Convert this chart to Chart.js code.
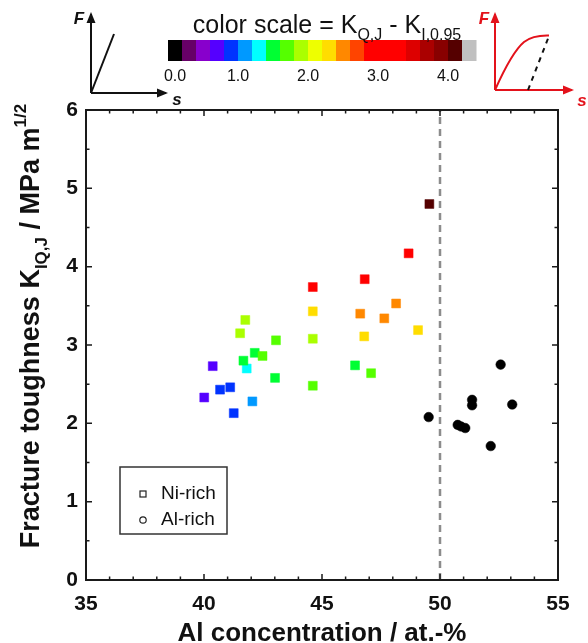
<!DOCTYPE html>
<html>
<head>
<meta charset="utf-8">
<script src="https://cdn.jsdelivr.net/npm/chart.js@4/dist/chart.umd.min.js"></script>
<style>
  html, body { margin: 0; padding: 0; background: #fff; }
  #wrap { width: 588px; height: 643px; position: relative; }
</style>
</head>
<body>
<div id="wrap"><canvas id="c" width="588" height="643"></canvas></div>
<script>
// ---------- DATA ----------
// Ni-rich alloys (squares): Al concentration (at.-%), K_IQ,J (MPa m^1/2), colour-scale value K_Q,J - K_I,0.95
const niAl = [40.37, 40.68, 41.11, 40.01, 41.26, 42.05, 41.81, 41.67, 42.15, 42.48, 43.05, 43.01, 41.53, 41.75,
              44.61, 44.61, 44.61, 44.61, 49.55, 48.67, 46.81, 48.14, 46.62, 47.64, 46.79, 49.07, 46.40, 47.08];
const niK  = [2.73, 2.43, 2.46, 2.33, 2.13, 2.28, 2.70, 2.80, 2.90, 2.86, 3.06, 2.58, 3.15, 3.32,
              3.74, 3.43, 3.08, 2.48, 4.80, 4.17, 3.84, 3.53, 3.40, 3.34, 3.11, 3.19, 2.74, 2.64];
const niDiff = [0.6, 0.8, 0.8, 0.6, 0.8, 1.0, 1.2, 1.4, 1.4, 1.6, 1.6, 1.4, 1.8, 1.8,
                3.0, 2.2, 1.8, 1.6, 4.0, 3.0, 3.0, 2.4, 2.4, 2.4, 2.2, 2.2, 1.4, 1.6];
// Al-rich alloys (circles)
const alAl = [49.52, 52.57, 51.36, 51.36, 53.06, 50.75, 50.89, 51.07, 52.15];
const alK  = [2.08, 2.75, 2.30, 2.23, 2.24, 1.98, 1.96, 1.94, 1.71];
// stoichiometric boundary
const boundaryAl = [50, 50];
const boundaryK  = [0, 6];
// axis ranges / ticks
const xRange = [35, 55], xMajor = 5, xMinor = 1;
const yRange = [0, 6], yMajor = 1, yMinor = 0.5;
// colour scale
const scaleStep = 0.2;
const scaleLabels = [0.0, 1.0, 2.0, 3.0, 4.0];

// ---------- STYLE ----------
const palette = ['#000000', '#660066', '#8800cc', '#5500ff', '#0033ff', '#0099ff', '#00ffff', '#00ff33',
                 '#55ff00', '#aaff00', '#eeff00', '#ffdd00', '#ff8800', '#ff4400', '#ff0000', '#ff0000',
                 '#ff0000', '#dd0000', '#aa0000', '#880000', '#550000', '#c0c0c0'];
const FONT = '"Liberation Sans", Arial, Helvetica, sans-serif';
function colorFor(v) {
  const i = Math.max(0, Math.min(palette.length - 1, Math.round(v / scaleStep)));
  return palette[i];
}
const niColors = niDiff.map(colorFor);

function drawRich(ctx, parts, x, y, size, weight, align) {
  const fontFor = m => weight + ' ' + (m ? Math.round(size * 0.62) : size) + 'px ' + FONT;
  let total = 0;
  parts.forEach(p => { ctx.font = fontFor(p[1]); total += ctx.measureText(p[0]).width; });
  let cx = align === 'center' ? x - total / 2 : (align === 'right' ? x - total : x);
  ctx.textAlign = 'left';
  ctx.textBaseline = 'alphabetic';
  parts.forEach(p => {
    ctx.font = fontFor(p[1]);
    const dy = p[1] === 1 ? size * 0.28 : (p[1] === 2 ? -size * 0.5 : 0);
    ctx.fillText(p[0], cx, y + dy);
    cx += ctx.measureText(p[0]).width;
  });
}

function arrow(ctx, x1, y1, x2, y2, color) {
  ctx.strokeStyle = color; ctx.fillStyle = color;
  ctx.beginPath(); ctx.moveTo(x1, y1); ctx.lineTo(x2, y2); ctx.stroke();
  const a = Math.atan2(y2 - y1, x2 - x1), L = 9, W = 4.5;
  ctx.beginPath();
  ctx.moveTo(x2 + Math.cos(a) * 2, y2 + Math.sin(a) * 2);
  ctx.lineTo(x2 - Math.cos(a) * L - Math.sin(a) * W, y2 - Math.sin(a) * L + Math.cos(a) * W);
  ctx.lineTo(x2 - Math.cos(a) * L + Math.sin(a) * W, y2 - Math.sin(a) * L - Math.cos(a) * W);
  ctx.closePath(); ctx.fill();
}

const decor = {
  id: 'decor',
  afterDraw(chart) {
    const ctx = chart.ctx, a = chart.chartArea;
    const xs = chart.scales.x, ys = chart.scales.y;
    ctx.save();
    // frame
    ctx.strokeStyle = '#1a1a1a'; ctx.lineWidth = 2;
    ctx.strokeRect(a.left, a.top, a.right - a.left, a.bottom - a.top);
    // inward ticks on all sides
    ctx.lineWidth = 1.5;
    ctx.beginPath();
    for (let v = xRange[0]; v <= xRange[1] + 1e-9; v += xMinor) {
      const px = xs.getPixelForValue(v);
      const major = Math.abs(v / xMajor - Math.round(v / xMajor)) < 1e-6;
      const L = major ? 6 : 3.5;
      ctx.moveTo(px, a.bottom); ctx.lineTo(px, a.bottom - L);
      ctx.moveTo(px, a.top); ctx.lineTo(px, a.top + L);
    }
    for (let v = yRange[0]; v <= yRange[1] + 1e-9; v += yMinor) {
      const py = ys.getPixelForValue(v);
      const major = Math.abs(v / yMajor - Math.round(v / yMajor)) < 1e-6;
      const L = major ? 6 : 3.5;
      ctx.moveTo(a.left, py); ctx.lineTo(a.left + L, py);
      ctx.moveTo(a.right, py); ctx.lineTo(a.right - L, py);
    }
    ctx.stroke();

    // axis titles
    ctx.fillStyle = '#111';
    ctx.font = 'bold 26px ' + FONT;
    ctx.textAlign = 'center'; ctx.textBaseline = 'alphabetic';
    ctx.fillText('Al concentration / at.-%', (a.left + a.right) / 2, 641);
    ctx.save();
    ctx.translate(39, 326);
    ctx.rotate(-Math.PI / 2);
    drawRich(ctx, [['Fracture toughness K', 0], ['IQ,J', 1], [' / MPa m', 0], ['1/2', 2]], 0, 0, 27, 'bold', 'center');
    ctx.restore();

    // legend
    ctx.strokeStyle = '#333'; ctx.lineWidth = 1.5;
    ctx.strokeRect(120, 467, 107, 67);
    ctx.lineWidth = 1.2; ctx.strokeStyle = '#222';
    ctx.strokeRect(140, 491, 6, 6);
    ctx.beginPath(); ctx.arc(143, 520, 3.2, 0, Math.PI * 2); ctx.stroke();
    ctx.fillStyle = '#111'; ctx.font = '19px ' + FONT;
    ctx.textAlign = 'left'; ctx.textBaseline = 'middle';
    ctx.fillText('Ni-rich', 161, 494);
    ctx.fillText('Al-rich', 161, 520);

    // colour scale
    const barL = 168, barT = 40, cw = 14, ch = 21;
    palette.forEach((c, i) => { ctx.fillStyle = c; ctx.fillRect(barL + i * cw, barT, cw + 0.5, ch); });
    ctx.fillStyle = '#111'; ctx.font = '16px ' + FONT;
    ctx.textAlign = 'center'; ctx.textBaseline = 'middle';
    scaleLabels.forEach(v => {
      const px = Math.max(barL + cw / 2, barL + (v / scaleStep) * cw);
      ctx.fillText(v.toFixed(1), px, 77);
    });
    ctx.fillStyle = '#111';
    drawRich(ctx, [['color scale = K', 0], ['Q,J', 1], [' - K', 0], ['I,0.95', 1]], 327, 33, 25, 'normal', 'center');

    // left inset (linear F-s)
    ctx.lineWidth = 2;
    arrow(ctx, 91, 93, 91, 14, '#111');
    arrow(ctx, 91, 93, 166, 93, '#111');
    ctx.beginPath(); ctx.moveTo(91, 93); ctx.lineTo(114, 34); ctx.stroke();
    ctx.fillStyle = '#111'; ctx.font = 'italic bold 17px ' + FONT;
    ctx.textAlign = 'center'; ctx.textBaseline = 'middle';
    ctx.fillText('F', 79, 19);
    ctx.fillText('s', 177, 100);

    // right inset (non-linear F-s)
    const red = '#e3121b';
    ctx.lineWidth = 2;
    arrow(ctx, 495, 90, 495, 14, red);
    arrow(ctx, 495, 90, 572, 90, red);
    ctx.strokeStyle = red;
    ctx.beginPath(); ctx.moveTo(495, 90);
    ctx.quadraticCurveTo(512, 52, 524, 42);
    ctx.quadraticCurveTo(533, 35, 549, 35.5);
    ctx.stroke();
    ctx.strokeStyle = '#111'; ctx.setLineDash([5, 5]);
    ctx.beginPath(); ctx.moveTo(528, 90); ctx.lineTo(549, 36); ctx.stroke();
    ctx.setLineDash([]);
    ctx.fillStyle = red; ctx.font = 'italic bold 17px ' + FONT;
    ctx.fillText('F', 484, 19);
    ctx.fillText('s', 582, 101);
    ctx.restore();
  }
};

new Chart(document.getElementById('c'), {
  type: 'scatter',
  data: {
    datasets: [
      {
        label: 'Ni-rich',
        data: niAl.map((x, i) => ({ x: x, y: niK[i] })),
        pointStyle: 'rect', pointRadius: 6.3,
        backgroundColor: niColors, borderColor: niColors, borderWidth: 0.5,
        order: 1
      },
      {
        label: 'Al-rich',
        data: alAl.map((x, i) => ({ x: x, y: alK[i] })),
        pointStyle: 'circle', pointRadius: 4.8,
        backgroundColor: '#000', borderColor: '#000', borderWidth: 0.5,
        order: 2
      },
      {
        label: 'boundary',
        type: 'line',
        data: boundaryAl.map((x, i) => ({ x: x, y: boundaryK[i] })),
        borderColor: '#8c8c8c', borderWidth: 2.5, borderDash: [7, 5],
        pointRadius: 0, fill: false, order: 3
      }
    ]
  },
  options: {
    responsive: false, animation: false, devicePixelRatio: 1,
    layout: { padding: { top: 110, right: 30, left: 0, bottom: 0 } },
    plugins: { legend: { display: false }, tooltip: { enabled: false } },
    scales: {
      x: {
        type: 'linear', min: xRange[0], max: xRange[1],
        ticks: { stepSize: xMajor, color: '#111', padding: 12, font: { family: FONT, size: 21, weight: 'bold' } },
        grid: { display: false, drawTicks: false }, border: { display: false },
        afterFit(s) { s.height = 63; }
      },
      y: {
        type: 'linear', min: yRange[0], max: yRange[1],
        ticks: { stepSize: yMajor, color: '#111', padding: 8, font: { family: FONT, size: 21, weight: 'bold' } },
        grid: { display: false, drawTicks: false }, border: { display: false },
        afterFit(s) { s.width = 86; }
      }
    }
  },
  plugins: [decor]
});
</script>
</body>
</html>
